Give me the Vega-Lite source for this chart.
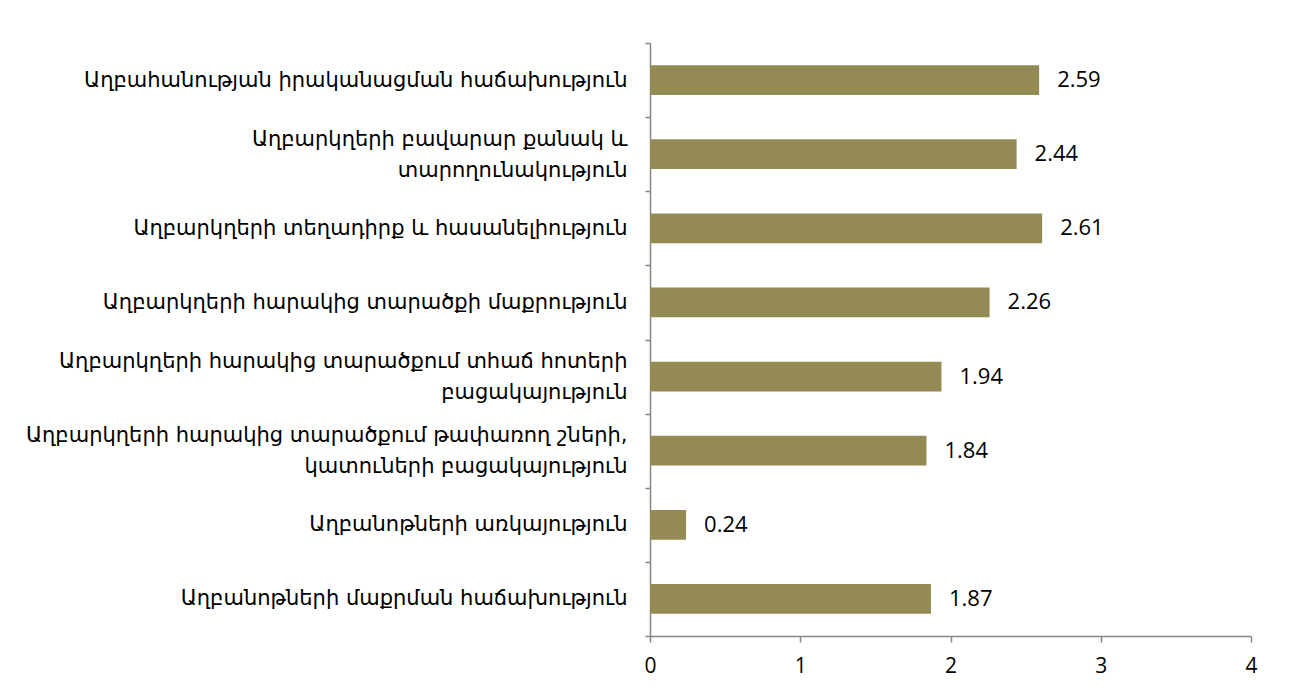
{
  "$schema": "https://vega.github.io/schema/vega-lite/v6.json",
  "width": 601,
  "height": 593,
  "autosize": {"type": "none"},
  "padding": {"left": 650, "top": 43, "right": 41, "bottom": 57},
  "background": "white",
  "data": {
    "values": [
      {"label": "Աղբահանության իրականացման հաճախություն", "value": 2.59},
      {"label": "Աղբարկղերի բավարար քանակ և|տարողունակություն", "value": 2.44},
      {"label": "Աղբարկղերի տեղադիրք և հասանելիություն", "value": 2.61},
      {"label": "Աղբարկղերի հարակից տարածքի մաքրություն", "value": 2.26},
      {"label": "Աղբարկղերի հարակից տարածքում տհաճ հոտերի|բացակայություն", "value": 1.94},
      {"label": "Աղբարկղերի հարակից տարածքում թափառող շների,|կատուների բացակայություն", "value": 1.84},
      {"label": "Աղբանոթների առկայություն", "value": 0.24},
      {"label": "Աղբանոթների մաքրման հաճախություն", "value": 1.87}
    ]
  },
  "encoding": {
    "y": {
      "field": "label",
      "type": "nominal",
      "sort": null,
      "scale": {"paddingInner": 0, "paddingOuter": 0},
      "axis": {
        "title": null,
        "tickBand": "extent",
        "labelExpr": "split(datum.label, '|')",
        "labelBaseline": {"condition": {"test": "indexof(datum.label, '|') >= 0", "value": "line-bottom"}, "value": "middle"},
        "labelFont": "DejaVu Sans",
        "labelFontSize": 21,
        "labelColor": "#000000",
        "labelLimit": 700,
        "labelPadding": 18,
        "labelLineHeight": 31,
        "tickSize": 5,
        "tickColor": "#868686",
        "domainColor": "#868686",
        "tickWidth": 1.5,
        "domainWidth": 1.5
      }
    },
    "x": {
      "field": "value",
      "type": "quantitative",
      "scale": {"domain": [0, 4], "nice": false},
      "axis": {
        "title": null,
        "values": [0, 1, 2, 3, 4],
        "grid": false,
        "format": "d",
        "labelFlush": false,
        "labelFont": "Open Sans",
        "labelFontSize": 21,
        "labelColor": "#000000",
        "labelPadding": 13,
        "tickSize": 6,
        "tickColor": "#868686",
        "domainColor": "#868686",
        "tickWidth": 1.5,
        "domainWidth": 1.5
      }
    }
  },
  "layer": [
    {
      "mark": {"type": "bar", "color": "#948A54", "height": {"band": 0.4}}
    },
    {
      "mark": {"type": "text", "align": "left", "baseline": "middle", "dx": 18, "font": "Open Sans", "fontSize": 22, "color": "#000000"},
      "encoding": {"text": {"field": "value", "type": "quantitative", "format": ".2f"}}
    }
  ],
  "config": {"view": {"stroke": null}}
}
